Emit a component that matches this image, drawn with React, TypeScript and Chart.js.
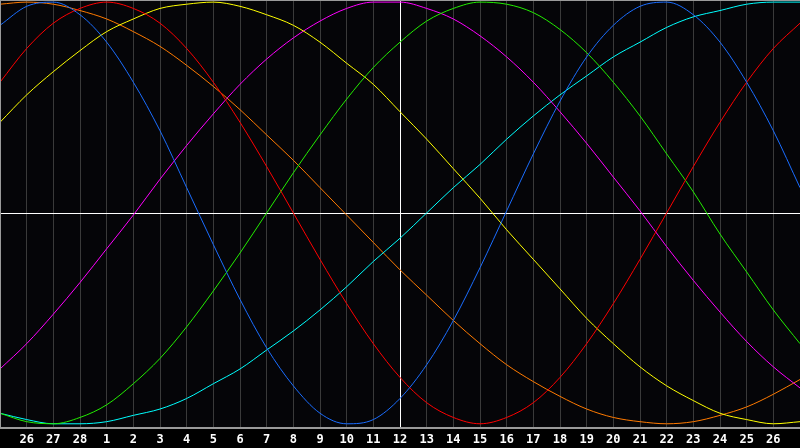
import { useEffect, useRef } from 'react'
import { Chart, ChartConfiguration, registerables } from 'chart.js'

Chart.register(...registerables)

// day labels under each grid line (index 0 and 30 sit on the chart edges)
const dayLabels = [
  '25', '26', '27', '28', '1', '2', '3', '4', '5', '6', '7', '8', '9', '10', '11',
  '12', '13', '14', '15', '16', '17', '18', '19', '20', '21', '22', '23', '24', '25', '26', '27',
]

// cycle values in percent, one per day
const blueValues = [
  89, 98, 100, 94, 81, 62, 39, 12, -15, -41, -64, -82, -95, -100, -98, -88,
  -72, -51, -26, 1, 28, 53, 74, 89, 98, 100, 94, 81, 62, 39, 12,
]
const redValues = [
  62, 78, 90, 97, 100, 97, 90, 78, 62, 43, 22, 0, -22, -43, -62, -78,
  -90, -97, -100, -97, -90, -78, -62, -43, -22, 0, 22, 43, 62, 78, 90,
]
const greenValues = [
  -95, -99, -100, -97, -91, -81, -69, -54, -37, -19, 0, 19, 37, 54, 69, 81,
  91, 97, 100, 99, 95, 87, 76, 62, 46, 28, 10, -10, -28, -46, -62,
]
const yellowValues = [
  43, 56, 67, 77, 86, 92, 97, 99, 100, 98, 94, 89, 81, 71, 61, 48,
  35, 21, 7, -8, -22, -36, -50, -62, -73, -82, -89, -95, -98, -100, -99,
]
const magentaValues = [
  -74, -62, -48, -33, -17, -1, 16, 32, 47, 61, 73, 83, 91, 97, 100, 100,
  97, 92, 84, 74, 62, 48, 33, 17, 1, -16, -32, -47, -61, -73, -83,
]
const cyanValues = [
  -95, -98, -100, -100, -99, -96, -93, -88, -81, -74, -65, -56, -46, -35, -23, -12,
  0, 12, 23, 35, 46, 56, 65, 74, 81, 88, 93, 96, 99, 100, 100,
]
const orangeValues = [
  99, 100, 99, 96, 92, 86, 79, 70, 60, 49, 37, 25, 12, -1, -14, -27,
  -39, -51, -62, -72, -80, -87, -93, -97, -99, -100, -99, -96, -92, -86, -79,
]

const series = [
  { values: blueValues, color: '#1a6dff' },
  { values: redValues, color: '#ff0000' },
  { values: greenValues, color: '#22ee00' },
  { values: yellowValues, color: '#ffff00' },
  { values: magentaValues, color: '#ff00ff' },
  { values: cyanValues, color: '#00ffff' },
  { values: orangeValues, color: '#ff7a00' },
]

const todayIndex = 15

const framePlugin = {
  id: 'frame',
  beforeDraw(chart: Chart) {
    const { ctx, chartArea } = chart
    ctx.save()
    ctx.fillStyle = '#050508'
    ctx.fillRect(chartArea.left, chartArea.top, chartArea.right - chartArea.left, chartArea.bottom - chartArea.top)
    ctx.restore()
  },
  beforeDatasetsDraw(chart: Chart) {
    // zero line across the middle
    const { ctx, chartArea, scales } = chart
    const y0 = Math.round(scales.y.getPixelForValue(0)) + 0.5
    ctx.save()
    ctx.strokeStyle = '#ffffff'
    ctx.lineWidth = 1
    ctx.beginPath()
    ctx.moveTo(chartArea.left, y0)
    ctx.lineTo(chartArea.right, y0)
    ctx.stroke()
    ctx.restore()
  },
  afterDatasetsDraw(chart: Chart) {
    const { ctx, chartArea } = chart
    ctx.save()
    ctx.strokeStyle = '#9a9a9a'
    ctx.lineWidth = 1
    ctx.beginPath()
    ctx.moveTo(chartArea.left, chartArea.top + 0.5)
    ctx.lineTo(chartArea.right, chartArea.top + 0.5)
    ctx.moveTo(chartArea.left + 0.5, chartArea.top)
    ctx.lineTo(chartArea.left + 0.5, chartArea.bottom)
    ctx.stroke()
    ctx.restore()
  },
}

export default function App() {
  const canvasRef = useRef<HTMLCanvasElement>(null)

  useEffect(() => {
    if (!canvasRef.current) return
    document.body.style.margin = '0'
    document.body.style.background = '#000'

    const config: ChartConfiguration = {
      type: 'line',
      data: {
        datasets: series.map((s) => ({
          data: s.values.map((v, i) => ({ x: i, y: v })),
          borderColor: s.color,
          borderWidth: 1,
          pointRadius: 0,
          cubicInterpolationMode: 'monotone',
          fill: false,
        })),
      },
      options: {
        animation: false,
        responsive: false,
        events: [],
        layout: { padding: 0 },
        plugins: {
          legend: { display: false },
          tooltip: { enabled: false },
        },
        scales: {
          x: {
            type: 'linear',
            min: 0,
            max: dayLabels.length - 1,
            afterFit: (scale: any) => {
              scale.height = 20
            },
            border: { display: true, color: '#9a9a9a', width: 2 },
            grid: {
              drawTicks: true,
              tickLength: 5,
              tickColor: 'rgba(0,0,0,0)',
              lineWidth: 1,
              color: (c: any) => (c.tick && c.tick.value === todayIndex ? '#ffffff' : '#3a3a3a'),
            },
            ticks: {
              stepSize: 1,
              autoSkip: false,
              maxRotation: 0,
              padding: 0,
              color: '#ffffff',
              font: { family: '"DejaVu Sans Mono", monospace', size: 12, weight: 'bold' },
              callback: (value: any) => {
                const i = Number(value)
                if (i <= 0 || i >= dayLabels.length - 1) return ''
                return dayLabels[i]
              },
            },
          },
          y: {
            min: -102,
            max: 101,
            display: false,
          },
        },
      },
      plugins: [framePlugin],
    }

    const chart = new Chart(canvasRef.current, config)
    return () => {
      chart.destroy()
    }
  }, [])

  return (
    <div style={{ width: 800, height: 448, background: '#000' }}>
      <canvas ref={canvasRef} width={800} height={448} style={{ display: 'block' }}></canvas>
    </div>
  )
}
